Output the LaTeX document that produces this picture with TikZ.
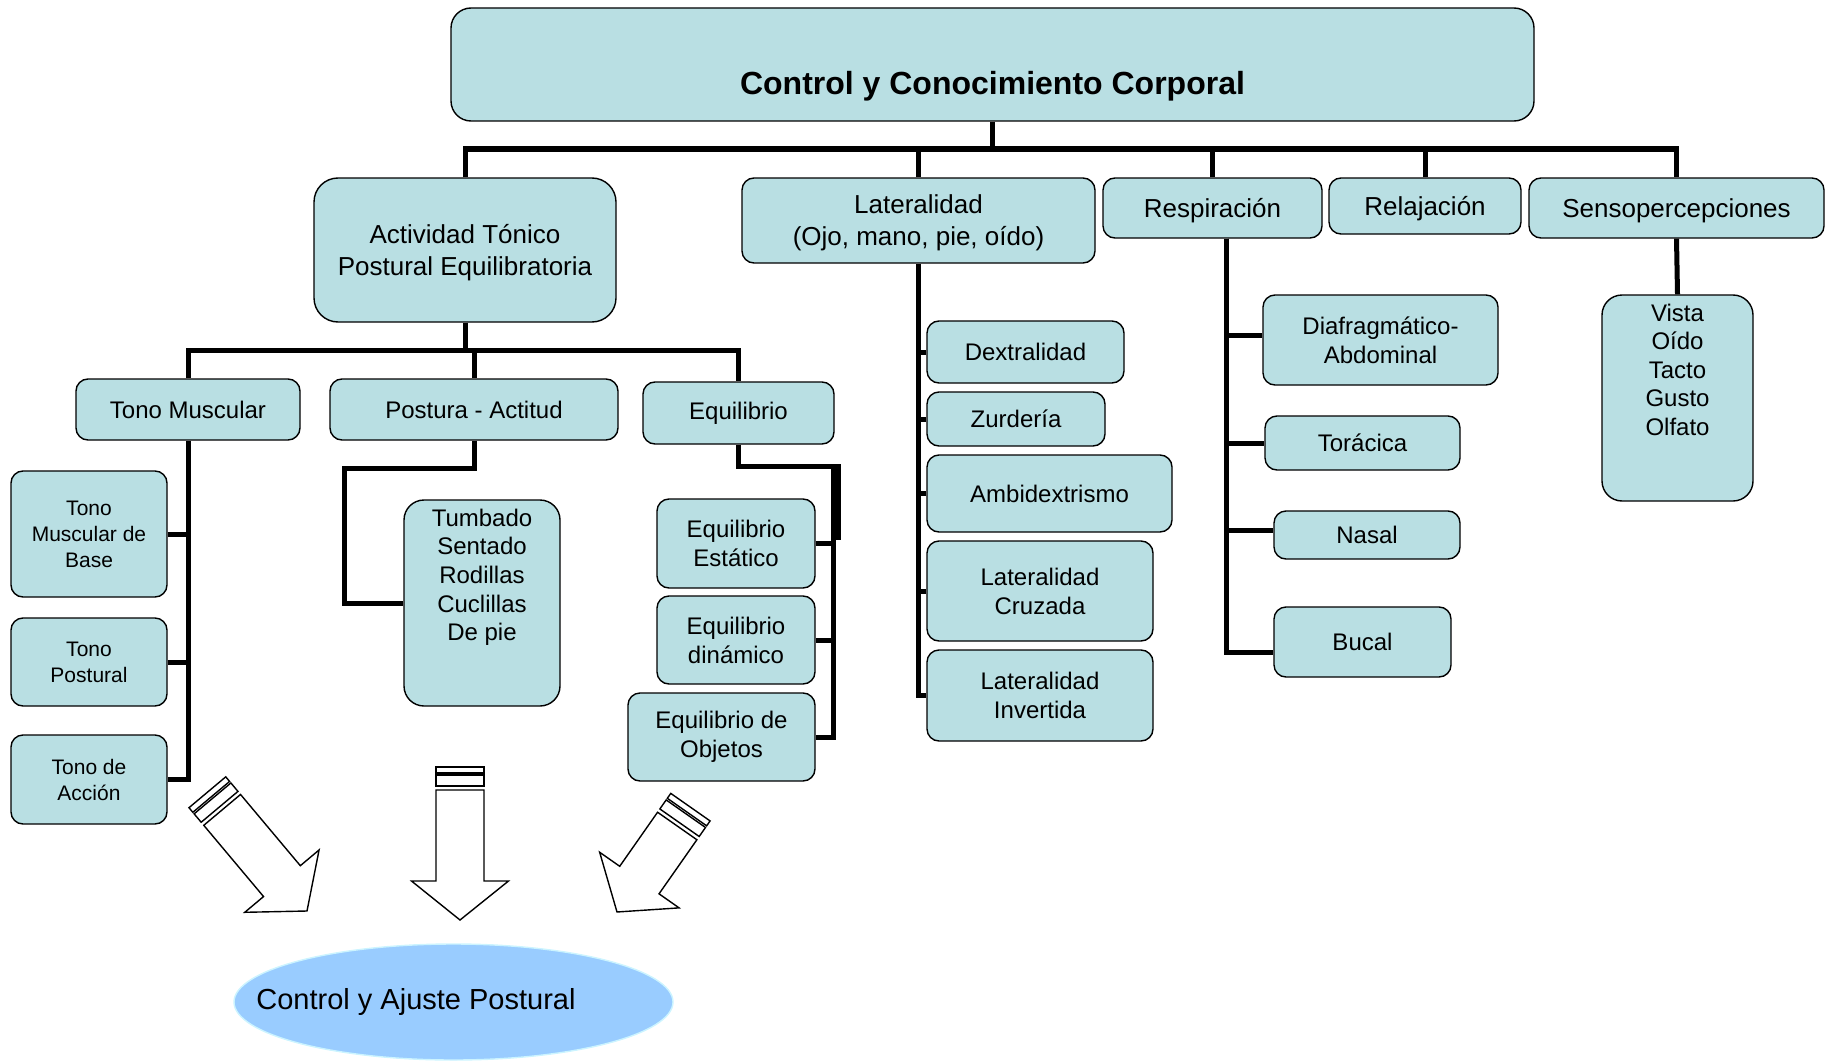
\documentclass[tikz,border=0pt]{standalone}
\usepackage{fontspec}
\setmainfont{Liberation Sans}
\usetikzlibrary{shapes.geometric}
\definecolor{boxteal}{HTML}{B9DFE3}
\definecolor{ovalblue}{HTML}{99CCFF}
\definecolor{ovalline}{HTML}{CCF4FF}

% hollow block arrow: tip x, tip y, angle, length
\newcommand{\hollowarrow}[4]{%
  \begin{scope}[shift={(#1,#2)},rotate=#3]
    \draw[blk] (0,0) -- (48.5,-39) -- (24,-39) -- (24,-#4+23) -- (-24,-#4+23)
      -- (-24,-39) -- (-48.5,-39) -- cycle;
    \draw[blk] (-24,-#4+19) rectangle (24,-#4+8);
    \draw[blk] (-24,-#4+6) rectangle (24,-#4);
  \end{scope}}

\begin{document}
\begin{tikzpicture}[x=1pt,y=-1pt,
        box/.style={rectangle,draw,rounded corners=12pt,fill=boxteal,line width=1.4pt,
                    align=center,inner sep=0pt,font=\fontsize{24}{29}\selectfont},
        big/.style={box,text depth=0pt,font=\fontsize{26}{32}\selectfont},
        small/.style={box,font=\fontsize{21}{26}\selectfont},
        conn/.style={line width=5pt},
        blk/.style={draw,fill=white,line width=1.4pt,line join=miter}]
      \useasboundingbox (0,0) rectangle (1836,1062);
      % top level
      \node[box,rounded corners=20pt,font=\fontsize{32}{38}\selectfont\bfseries] (top) at(992.5,64.5)
        {\parbox[c][113pt][t]{1083pt}{\centering\rule{0pt}{87pt}Control y Conocimiento Corporal}};
      \node[big,rounded corners=24pt,minimum width=302pt,minimum height=144pt] (act) at(465,250)
        {Actividad Tónico\\Postural Equilibratoria};
      \node[big,minimum width=353pt,minimum height=85pt] (lat) at(918.5,220.5)
        {Lateralidad\\(Ojo, mano, pie, oído)};
      \node[big,minimum width=219pt,minimum height=60pt] (res) at(1212.5,208){Respiración};
      \node[big,minimum width=192pt,minimum height=56pt] (rel) at(1425,206){Relajación};
      \node[big,minimum width=295pt,minimum height=60pt] (sen) at(1676.5,208){Sensopercepciones};
      % actividad tonico postural
      \node[box,minimum width=224pt,minimum height=61pt] (tm) at(188,409.5){Tono Muscular};
      \node[box,minimum width=288pt,minimum height=61pt] (pa) at(474,409.5){Postura - Actitud};
      \node[box,minimum width=191pt,minimum height=62pt] (eq) at(738.5,413){Equilibrio};
      \node[small,minimum width=156pt,minimum height=126pt] (tmb) at(89,534){Tono\\Muscular de\\Base};
      \node[small,minimum width=156pt,minimum height=88pt]  (tp)  at(89,662){Tono\\Postural};
      \node[small,minimum width=156pt,minimum height=89pt]  (tac) at(89,779.5){Tono de\\Acción};
      \node[box,rounded corners=20pt,font=\fontsize{24}{28.7}\selectfont] (tum) at(482,603)
        {\parbox[c][206pt][t]{156pt}{\centering\rule{0pt}{26pt}Tumbado\\Sentado\\Rodillas\\Cuclillas\\De pie}};
      \node[box,minimum width=158pt,minimum height=89pt] (ee) at(736,543.5){Equilibrio\\Estático};
      \node[box,minimum width=158pt,minimum height=88pt] (ed) at(736,640){Equilibrio\\dinámico};
      \node[box,minimum width=187pt,minimum height=88pt] (eo) at(721.5,737){Equilibrio de\\Objetos};
      % lateralidad
      \node[box,minimum width=197pt,minimum height=62pt]  (dex) at(1025.5,352){Dextralidad};
      \node[box,minimum width=178pt,minimum height=54pt]  (zur) at(1016,419){Zurdería};
      \node[box,minimum width=245pt,minimum height=77pt]  (amb) at(1049.5,493.5){Ambidextrismo};
      \node[box,minimum width=226pt,minimum height=100pt] (lc)  at(1040,591){Lateralidad\\Cruzada};
      \node[box,minimum width=226pt,minimum height=91pt]  (li)  at(1040,695.5){Lateralidad\\Invertida};
      % respiracion
      \node[box,minimum width=235pt,minimum height=90pt] (dia) at(1380.5,340){Diafragmático-\\Abdominal};
      \node[box,minimum width=195pt,minimum height=54pt] (tor) at(1362.5,443){Torácica};
      \node[box,minimum width=186pt,minimum height=48pt] (nas) at(1367,535){Nasal};
      \node[box,minimum width=177pt,minimum height=70pt] (buc) at(1362.5,642){Bucal};
      % sensopercepciones
      \node[box,rounded corners=20pt,font=\fontsize{24}{28.5}\selectfont] (vis) at(1677.5,398)
        {\parbox[c][206pt][t]{151pt}{\centering\rule{0pt}{26pt}Vista\\Oído\\Tacto\\Gusto\\Olfato}};
      % connectors
      \coordinate (bus) at(992.5,149);
      \draw[conn] (top.south) -- (top.south |- bus);
      \draw[conn] (act.north) |- (sen.north |- bus) -- (sen.north);
      \draw[conn] (lat.north) -- (lat.north |- bus);
      \draw[conn] (res.north) -- (res.north |- bus);
      \draw[conn] (rel.north) -- (rel.north |- bus);
      \coordinate (b2) at(465,350);
      \draw[conn] (act.south) -- (b2);
      \draw[conn] (tm.north) |- (b2) -| (eq.north);
      \draw[conn] (pa.north) -- (pa.north |- b2);
      \draw[conn] (tm.south) |- (tac.east);
      \draw[conn] (tmb.east) -- (tmb.east -| tm.south);
      \draw[conn] (tp.east) -- (tp.east -| tm.south);
      \coordinate (pk) at(344,468);
      \draw[conn] (pa.south) |- (pk) |- (tum.west);
      \coordinate (ek) at(838,466);
      \draw[conn] (eq.south) |- (ek) -- ++(0,74);
      \draw[conn] (eo.east) -| ([xshift=-5pt]ek);
      \draw[conn] (ee.east) -- ++(18,0);
      \draw[conn] (ed.east) -- ++(18,0);
      \draw[conn] (lat.south) |- (li.west);
      \draw[conn] (dex.west) -- (dex.west -| lat.south);
      \draw[conn] (zur.west) -- (zur.west -| lat.south);
      \draw[conn] (amb.west) -- (amb.west -| lat.south);
      \draw[conn] (lc.west) -- (lc.west -| lat.south);
      \coordinate (rk) at([xshift=14pt]res.south);
      \draw[conn] (rk) |- ([yshift=-10pt]buc.west);
      \draw[conn] (rk) |- ([yshift=5pt]dia.west);
      \draw[conn] (rk) |- (tor.west);
      \draw[conn] (rk) |- ([yshift=5pt]nas.west);
      \draw[conn] (sen.south) -- (vis.north);
      % result
      \hollowarrow{307}{911}{40}{155}
      \hollowarrow{460}{920}{0}{153}
      \hollowarrow{617}{912}{-35}{128}
      \node[ellipse,fill=ovalblue,draw=ovalline,line width=1.4pt,minimum width=439pt,
            minimum height=116pt,inner sep=0pt] (cap) at(453.5,1002){};
      \node[font=\fontsize{29}{34}\selectfont] (captxt) at(416,1002){Control y Ajuste Postural};
    \end{tikzpicture}
\end{document}
